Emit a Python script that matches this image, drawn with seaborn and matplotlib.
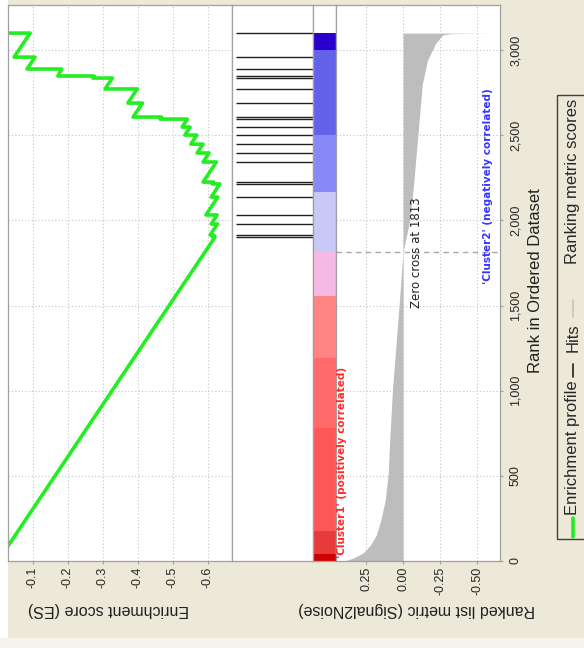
import numpy as np
import matplotlib
matplotlib.use('Agg')
import matplotlib.pyplot as plt
import matplotlib.transforms as mtrans
from matplotlib.patches import Rectangle
from matplotlib.lines import Line2D
import seaborn as sb

# profilul de imbogatire (rang, ES)
es_rank = [0, 1902, 1902, 1914, 1914, 1979, 1979, 2032, 2032, 2137, 2137,
           2214, 2214, 2225, 2225, 2343, 2343, 2396, 2396, 2448, 2448,
           2501, 2501, 2548, 2548, 2595, 2595, 2607, 2607, 2689, 2689,
           2772, 2772, 2836, 2836, 2848, 2848, 2889, 2889, 2959, 2959,
           3100, 3100]
es_value = [0.0, -0.620, -0.613, -0.617, -0.606, -0.627, -0.609, -0.626,
            -0.594, -0.628, -0.609, -0.634, -0.612, -0.616, -0.586, -0.624,
            -0.586, -0.603, -0.569, -0.586, -0.551, -0.568, -0.534, -0.549,
            -0.526, -0.541, -0.463, -0.467, -0.386, -0.413, -0.371, -0.398,
            -0.306, -0.327, -0.271, -0.275, -0.171, -0.182, -0.083, -0.106,
            -0.046, -0.092, 0.0]

# pozitiile genelor din set (hits)
hits = [1902, 1914, 1979, 2032, 2137, 2214, 2225, 2343, 2396, 2448, 2501,
        2548, 2595, 2607, 2689, 2772, 2836, 2848, 2889, 2959, 3100]

# metrica de ranking (Signal2Noise)
metric_rank = [0, 10, 20, 47, 94, 153, 241, 358, 517, 710, 1000, 1500,
               1813, 2000, 2200, 2500, 2700, 2800, 2940, 3040, 3090, 3097,
               3100]
metric_value = [0.40, 0.36, 0.33, 0.27, 0.22, 0.18, 0.15, 0.12, 0.10, 0.09,
                0.072, 0.027, 0.0, -0.045, -0.07, -0.10, -0.12, -0.13,
                -0.165, -0.22, -0.27, -0.33, -0.60]
zero_cross = 1813

# banda de culori (rosu -> albastru)
band_start = [0, 41, 176, 782, 1194, 1559, 1813, 2165, 2500, 3000]
band_end = [41, 176, 782, 1194, 1559, 1813, 2165, 2500, 3000, 3100]
band_color = ['#d00000', '#e83a3a', '#ff5757', '#ff6b6b', '#ff8585',
              '#f6b8e4', '#c9c9f7', '#8888f8', '#6262ea', '#2a00cc']

es_ticks = [-0.1, -0.2, -0.3, -0.4, -0.5, -0.6]
metric_ticks = [0.25, 0.0, -0.25, -0.5]
metric_labels = ['0.25', '0.00', '-0.25', '-0.50']
rank_ticks = [0, 500, 1000, 1500, 2000, 2500, 3000]

sb.set_style('white')
plt.rcParams['font.family'] = ['Liberation Sans', 'DejaVu Sans']

W, H = 584, 648
BG = '#ece9d8'
SPINE = '#a0a0a0'
fig = plt.figure(figsize=(W / 100, H / 100), dpi=100, facecolor=BG)


def fx(px):
    return px / W


def fy(py):
    return 1 - py / H


def box(x0, x1, y0=5, y1=561):
    return [fx(x0), fy(y1), (x1 - x0) / W, (y1 - y0) / H]


fig.add_artist(Rectangle((0, 0), fx(8), 1, transform=fig.transFigure,
                         fc='white', ec='none', zorder=-5))
fig.add_artist(Rectangle((0, 0), 1, 10 / H, transform=fig.transFigure,
                         fc='#f6f4ec', ec='none', zorder=-5))

ax_es = fig.add_axes(box(8, 232))
ax_hit = fig.add_axes(box(232, 313), sharey=ax_es)
ax_bar = fig.add_axes(box(313, 336), sharey=ax_es)
ax_met = fig.add_axes(box(336, 500), sharey=ax_es)

for ax in (ax_es, ax_hit, ax_bar, ax_met):
    ax.set_facecolor('white')
    for s in ax.spines.values():
        s.set_color(SPINE)
        s.set_linewidth(0.9)

# panoul ES
sb.lineplot(x=es_value, y=es_rank, sort=False, estimator=None,
            color='#22ee22', lw=2.6, ax=ax_es, legend=False)
ax_es.set_xlim(-0.0286, -0.6686)
ax_es.set_xticks(es_ticks, labels=['%.1f' % t for t in es_ticks])
ax_es.grid(True, ls=(0, (1, 2)), color='#c4c4c4', lw=0.8)
ax_es.tick_params(axis='x', length=2, color=SPINE, pad=2, labelsize=9,
                  labelrotation=90, bottom=True)
ax_es.tick_params(axis='y', left=False, labelleft=False)

# panoul hits
ax_hit.hlines(hits, 0.05, 1.0, color='#202020', lw=1.0)
ax_hit.set_xlim(0, 1)
ax_hit.tick_params(left=False, bottom=False, labelleft=False,
                   labelbottom=False)

# banda de culori
ax_bar.barh(band_start, 1, height=np.subtract(band_end, band_start),
            align='edge', color=band_color, lw=0)
ax_bar.set_xlim(0, 1)
ax_bar.tick_params(left=False, bottom=False, labelleft=False,
                   labelbottom=False)

# panoul metricii
ax_met.fill_betweenx(metric_rank, metric_value, 0, color='#bdbdbd', lw=0)
ax_met.set_xlim(0.453, -0.655)
ax_met.set_xticks(metric_ticks, labels=metric_labels)
ax_met.grid(True, ls=(0, (1, 2)), color='#c4c4c4', lw=0.8)
ax_met.axhline(zero_cross, color='#a8a8a8', lw=1.0, ls=(0, (4, 3)))
ax_met.yaxis.tick_right()
ax_met.set_yticks(rank_ticks, labels=['{:,}'.format(t) for t in rank_ticks])
ax_met.tick_params(axis='x', length=2, color=SPINE, pad=2, labelsize=9,
                   labelrotation=90, bottom=True)
ax_met.tick_params(axis='y', length=2, color=SPINE, pad=5, labelsize=9,
                   labelrotation=90, right=True, left=False)
for lbl in ax_met.get_yticklabels():
    lbl.set_va('center')
ax_es.set_ylim(0, 3265)

ax_met.text(-0.09, zero_cross, 'Zero cross at ' + str(zero_cross),
            rotation=90, ha='center', va='center', fontsize=8.5,
            family='DejaVu Sans', color='#202020')
tr = mtrans.blended_transform_factory(ax_met.transAxes, ax_met.transData)
ax_met.text(0.034, 18, "'Cluster1' (positively correlated)", transform=tr,
            rotation=90, rotation_mode='anchor', ha='left', va='center',
            fontsize=7.5, fontweight='bold', family='DejaVu Sans',
            color='#ff2a2a')
ax_met.text(0.927, 2776, "'Cluster2' (negatively correlated)", transform=tr,
            rotation=90, rotation_mode='anchor', ha='right', va='center',
            fontsize=7.5, fontweight='bold', family='DejaVu Sans',
            color='#3535ff')

# etichete axe
fig.text(fx(108), fy(610), 'Enrichment score (ES)', rotation=180,
         ha='center', va='center', fontsize=11.5, color='#202020')
fig.text(fx(417), fy(610), 'Ranked list metric (Signal2Noise)',
         rotation=180, ha='center', va='center', fontsize=11.5,
         color='#202020')
fig.text(fx(535), fy(281), 'Rank in Ordered Dataset', rotation=90,
         ha='center', va='center', fontsize=12, color='#202020')

# legenda (rotita)
fig.add_artist(Rectangle((fx(557), fy(539)), 100 / W, (539 - 95) / H,
                         transform=fig.transFigure, fill=False,
                         ec='#404040', lw=1.0))
lx = fx(573)
fig.add_artist(Line2D([lx, lx], [fy(537), fy(518)], transform=fig.transFigure,
                      color='#22ee22', lw=2.6))
fig.text(lx, fy(515), 'Enrichment profile', rotation=90,
         rotation_mode='anchor', ha='left', va='center', fontsize=12)
fig.add_artist(Line2D([lx, lx], [fy(377), fy(364)], transform=fig.transFigure,
                      color='#202020', lw=1.2))
fig.text(lx, fy(352), 'Hits', rotation=90,
         rotation_mode='anchor', ha='left', va='center', fontsize=12)
fig.add_artist(Line2D([lx, lx], [fy(317), fy(300)], transform=fig.transFigure,
                      color='#c4c4c4', lw=1.2))
fig.text(lx, fy(264), 'Ranking metric scores', rotation=90,
         rotation_mode='anchor', ha='left', va='center', fontsize=12)

fig.savefig('out.png', dpi=100, facecolor=BG)
